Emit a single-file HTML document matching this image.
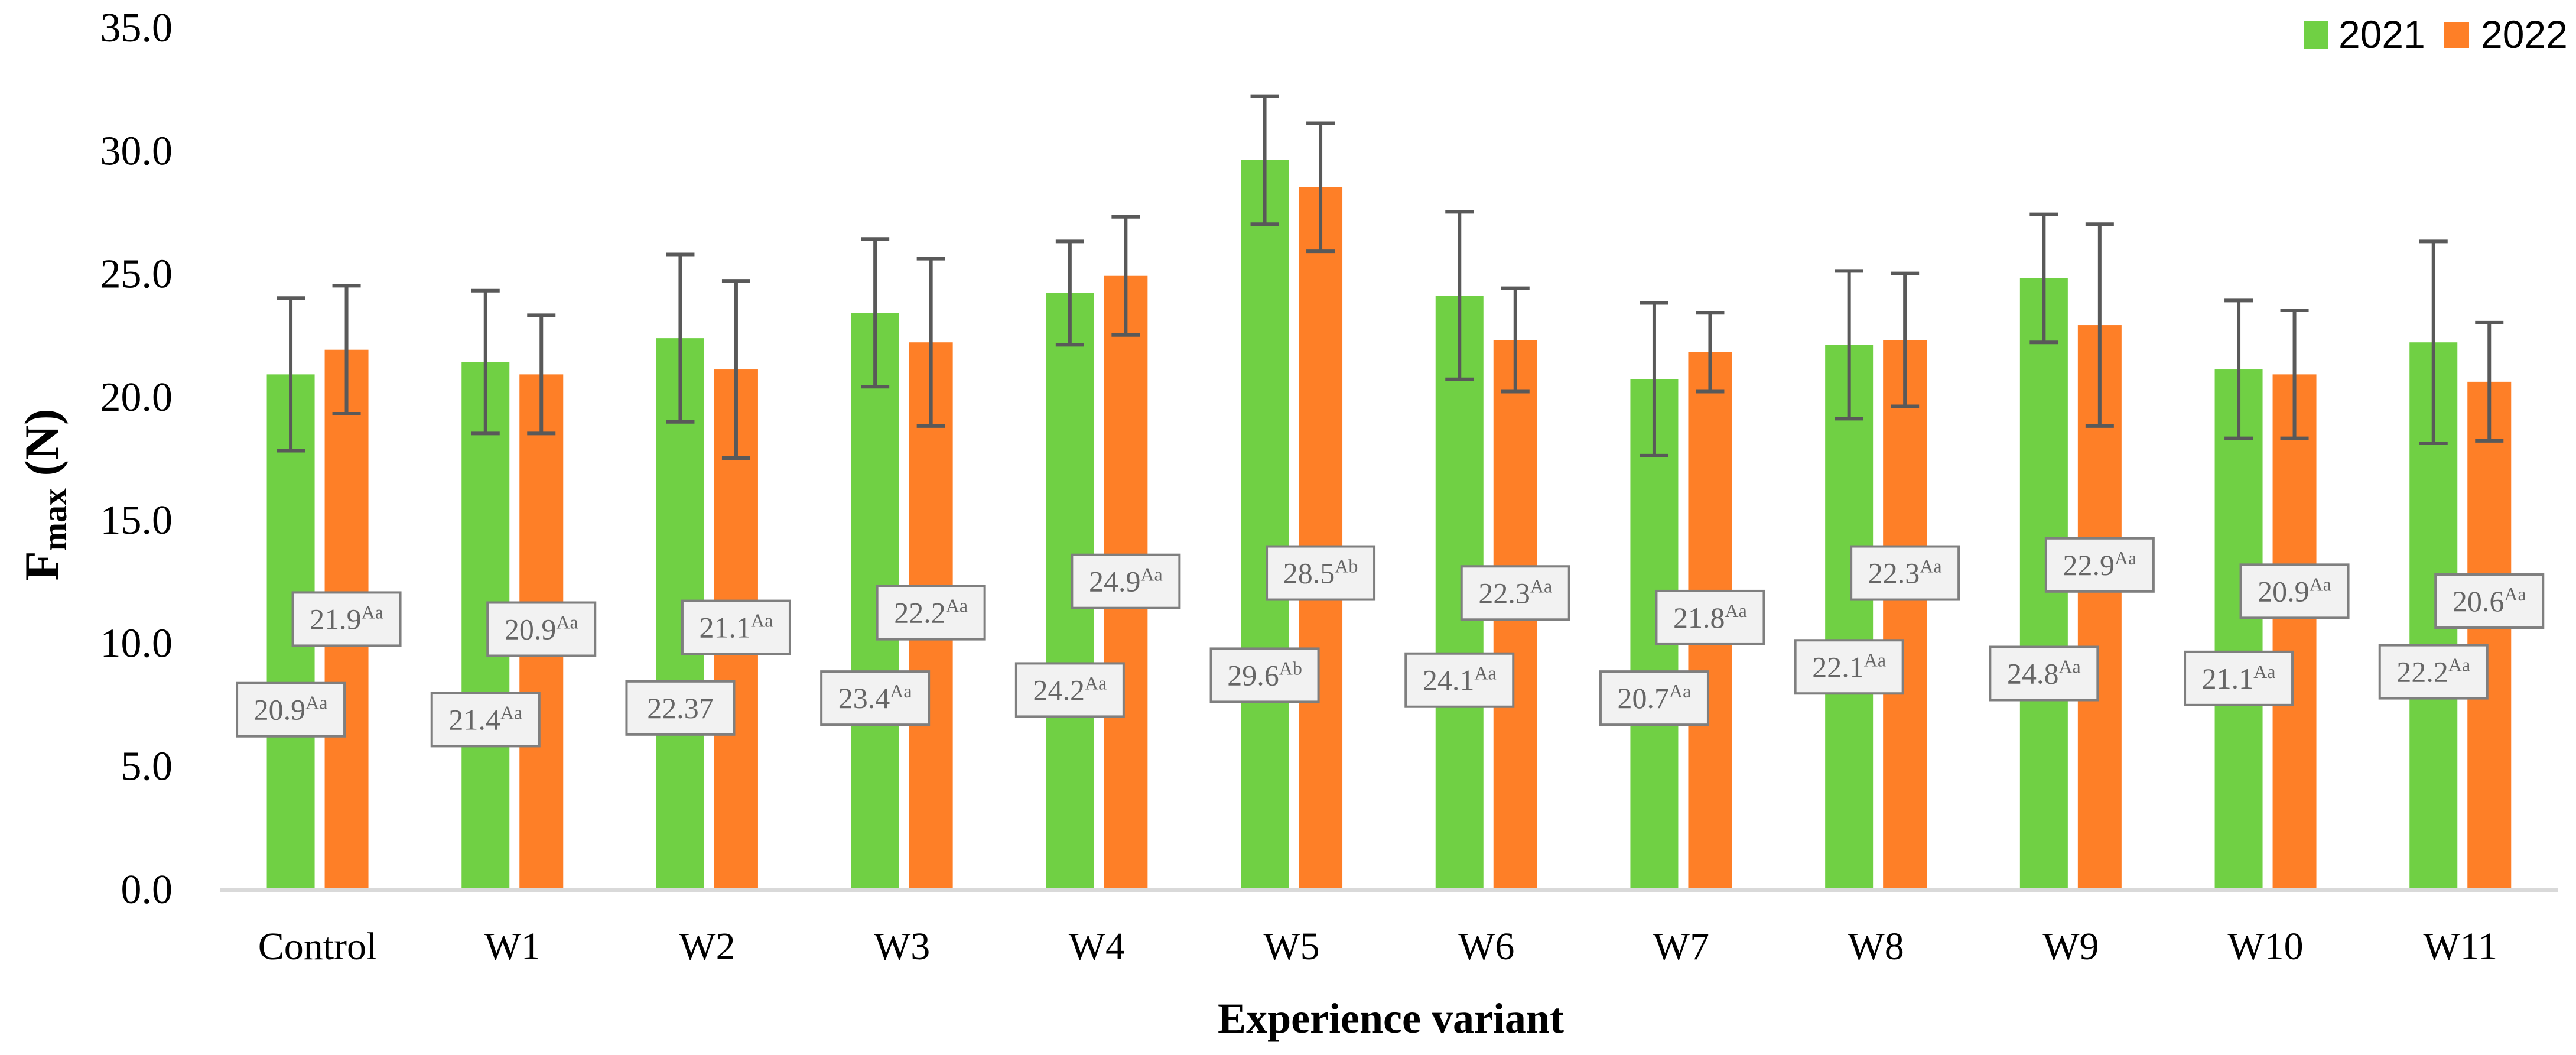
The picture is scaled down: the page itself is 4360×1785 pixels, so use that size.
<!DOCTYPE html>
<html><head><meta charset="utf-8"><style>
html,body{margin:0;padding:0;background:#fff;}
svg{display:block;}
</style></head><body>
<svg id="chart" width="4360" height="1785" viewBox="0 0 4360 1785" xmlns="http://www.w3.org/2000/svg">
<g id="legend">
<rect x="3900" y="35" width="40" height="48" fill="#70d044"/>
<text x="3958" y="81" font-family="Liberation Sans, sans-serif" font-size="66" fill="#000">2021</text>
<rect x="4137" y="38" width="42" height="43" fill="#fe7f27"/>
<text x="4199" y="81" font-family="Liberation Sans, sans-serif" font-size="66" fill="#000">2022</text>
</g>
<text transform="translate(98,837) rotate(-90)" text-anchor="middle" font-family="Liberation Serif, serif" font-weight="bold" font-size="82" fill="#000">F<tspan font-size="58" dy="14">max</tspan><tspan dy="-14"> (N)</tspan></text>
<text x="2354" y="1747" text-anchor="middle" font-family="Liberation Serif, serif" font-weight="bold" font-size="72" fill="#000">Experience variant</text>
</svg>
<script>
const categories = ["Control","W1","W2","W3","W4","W5","W6","W7","W8","W9","W10","W11"];
const values2021 = [20.9,21.4,22.37,23.4,24.2,29.6,24.1,20.7,22.1,24.8,21.1,22.2];
const values2022 = [21.9,20.9,21.1,22.2,24.9,28.5,22.3,21.8,22.3,22.9,20.9,20.6];
const err2021 = [3.1,2.9,3.4,3.0,2.1,2.6,3.4,3.1,3.0,2.6,2.8,4.1];
const err2022 = [2.6,2.4,3.6,3.4,2.4,2.6,2.1,1.6,2.7,4.1,2.6,2.4];
const labels2021 = ["20.9","21.4","22.37","23.4","24.2","29.6","24.1","20.7","22.1","24.8","21.1","22.2"];
const sup2021 = ["Aa","Aa","","Aa","Aa","Ab","Aa","Aa","Aa","Aa","Aa","Aa"];
const labels2022 = ["21.9","20.9","21.1","22.2","24.9","28.5","22.3","21.8","22.3","22.9","20.9","20.6"];
const sup2022 = ["Aa","Aa","Aa","Aa","Aa","Ab","Aa","Aa","Aa","Aa","Aa","Aa"];
const labelLevel2021 = [7.28,6.88,7.35,7.75,8.08,8.68,8.48,7.75,9.02,8.75,8.55,8.82];
const labelLevel2022 = [10.96,10.55,10.62,11.22,12.49,12.83,12.02,11.02,12.83,13.16,12.09,11.69];
const yTicks = [0,5,10,15,20,25,30,35];

const NS = "http://www.w3.org/2000/svg";
const svg = document.getElementById('chart');
const plotLeft = 372.7, band = 329.7, y0 = 1504, y35 = 46;
const yScale = v => y0 - (v/35)*(y0-y35);
const xCenter = i => plotLeft + band*(i+0.5);
function mk(tag, attrs){const e=document.createElementNS(NS,tag);for(const k in attrs)e.setAttribute(k,attrs[k]);return e;}

yTicks.forEach(t=>{
  const tx = mk('text',{x:292,y:yScale(t)+24,'text-anchor':'end','font-family':'Liberation Serif, serif','font-size':70,fill:'#000'});
  
  
  tx.textContent = t.toFixed(1);
  svg.appendChild(tx);
});

const series = [
  {vals:values2021, errs:err2021, x0:-86, x1:-5, color:'#70d044', labs:labels2021, sups:sup2021, lvl:labelLevel2021, name:'2021'},
  {vals:values2022, errs:err2022, x0:12, x1:86, color:'#fe7f27', labs:labels2022, sups:sup2022, lvl:labelLevel2022, name:'2022'}
];
series.forEach(s=>{
  categories.forEach((c,i)=>{
    const cx = xCenter(i);
    const r = mk('rect',{x:cx+s.x0,y:yScale(s.vals[i]),width:s.x1-s.x0,height:y0-yScale(s.vals[i]),fill:s.color});
    
    
    svg.appendChild(r);
  });
});
const ax = mk('line',{x1:plotLeft,x2:plotLeft+band*12,y1:y0+2,y2:y0+2,stroke:'#d9d9d9','stroke-width':6});


svg.appendChild(ax);

series.forEach(s=>{
  categories.forEach((c,i)=>{
    const bx = xCenter(i)+(s.x0+s.x1)/2;
    const top = yScale(s.vals[i]+s.errs[i]), bot = yScale(s.vals[i]-s.errs[i]);
    const g = mk('g',{stroke:'#595959','stroke-width':6});
    
    
    g.appendChild(mk('line',{x1:bx,x2:bx,y1:top,y2:bot}));
    g.appendChild(mk('line',{x1:bx-24,x2:bx+24,y1:top,y2:top}));
    g.appendChild(mk('line',{x1:bx-24,x2:bx+24,y1:bot,y2:bot}));
    svg.appendChild(g);
  });
});

series.forEach(s=>{
  categories.forEach((c,i)=>{
    const bx = xCenter(i)+(s.x0+s.x1)/2;
    const cy = yScale(s.lvl[i]);
    const g = mk('g',{});
    
    
    g.appendChild(mk('rect',{x:bx-91,y:cy-45,width:182,height:90,fill:'#f2f2f2',stroke:'#7f7f7f','stroke-width':4}));
    const t = mk('text',{x:bx,y:cy+17,'text-anchor':'middle','font-family':'Liberation Serif, serif','font-size':50,fill:'#666'});
    t.appendChild(document.createTextNode(s.labs[i]));
    if(s.sups[i]){const sp=mk('tspan',{'font-size':32,dy:-18});sp.textContent=s.sups[i];t.appendChild(sp);}
    g.appendChild(t);
    svg.appendChild(g);
  });
});

categories.forEach((c,i)=>{
  const t = mk('text',{x:xCenter(i),y:1623,'text-anchor':'middle','font-family':'Liberation Serif, serif','font-size':66,fill:'#000'});
  
  
  t.textContent = c;
  svg.appendChild(t);
});
</script>
</body></html>
